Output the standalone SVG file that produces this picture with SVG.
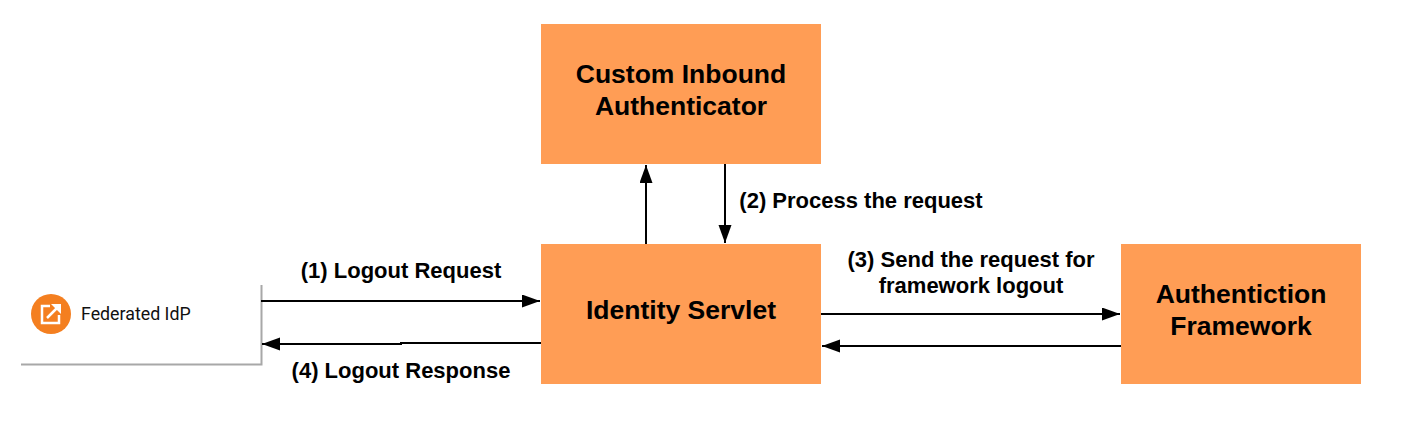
<svg xmlns="http://www.w3.org/2000/svg" width="1421" height="429" viewBox="0 0 1421 429">
<defs>
<marker id="arrow" markerUnits="userSpaceOnUse" markerWidth="19" markerHeight="14" refX="18" refY="6.500" orient="auto"><path d="M0 0L18 6.500L0 13Z" fill="#000"/></marker>
</defs>
<style>
.box{fill:#ff9d55}
.t{font-family:"Liberation Sans",Arial,sans-serif;font-weight:700;text-anchor:middle;fill:#000}
.n{font-size:26.500px}
.l{font-size:22px}
.c{fill:none;stroke:#000;stroke-width:2}
</style>
<rect width="1421" height="429" fill="#fff"/>
<g id="federated-idp">
<path d="M21 364.500H261.500V285" fill="none" stroke="#a8a8a8" stroke-width="2"/>
<circle cx="51" cy="314" r="20" fill="#f47f20"/>
<path d="M50 306H42V323H59V315" fill="none" stroke="#fff" stroke-width="2.500"/>
<path d="M47 318L58 307" fill="none" stroke="#fff" stroke-width="2.500"/>
<path d="M51 304H61V314Z" fill="#fff"/>
<text x="81" y="320" font-family="Roboto,sans-serif" font-size="17.800" fill="#111">Federated IdP</text>
</g>
<g id="custom-inbound-authenticator">
<rect class="box" x="541" y="24" width="280" height="140"/>
<text class="t n" x="681" y="83">Custom Inbound</text>
<text class="t n" x="681" y="115">Authenticator</text>
</g>
<g id="identity-servlet">
<rect class="box" x="541" y="244" width="280" height="140"/>
<text class="t n" x="681" y="319">Identity Servlet</text>
</g>
<g id="authentiction-framework">
<rect class="box" x="1121" y="244" width="240" height="140"/>
<text class="t n" x="1241" y="303">Authentiction</text>
<text class="t n" x="1241" y="335">Framework</text>
</g>
<g id="connectors">
<path class="c" marker-end="url(#arrow)" d="M261 301H540"/>
<path class="c" marker-end="url(#arrow)" d="M541 343H401V344H262"/>
<path class="c" marker-end="url(#arrow)" d="M646 244V165"/>
<path class="c" marker-end="url(#arrow)" d="M725 164V243"/>
<path class="c" marker-end="url(#arrow)" d="M821 314H1120"/>
<path class="c" marker-end="url(#arrow)" d="M1121 346H822"/>
</g>
<g id="labels">
<text class="t l" x="401" y="278">(1) Logout Request</text>
<text class="t l" x="861" y="208">(2) Process the request</text>
<text class="t l" x="971" y="267">(3) Send the request for</text>
<text class="t l" x="971" y="293">framework logout</text>
<text class="t l" x="401" y="378">(4) Logout Response</text>
</g>
</svg>
